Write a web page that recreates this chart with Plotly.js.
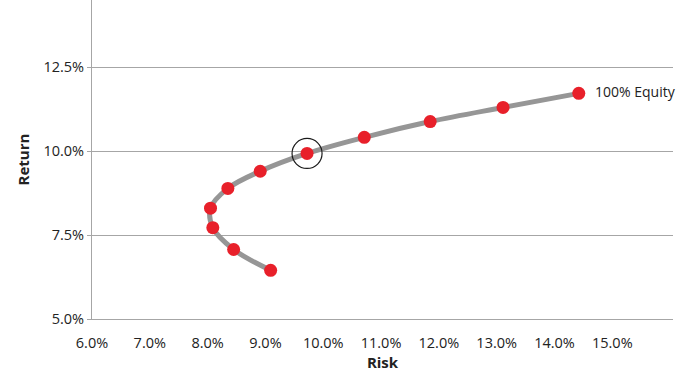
<!DOCTYPE html>
<html>
<head>
<meta charset="utf-8">
<script src="https://cdn.plot.ly/plotly-3.0.1.min.js"></script>
<style>html,body{margin:0;padding:0;background:#fff;}#chart{width:700px;height:375px;}</style>
</head>
<body>
<div id="chart"></div>
<script>
// Efficient frontier: risk (%) vs return (%)
var risk   = [9.09, 8.45, 8.09, 8.05, 8.35, 8.91, 9.72, 10.71, 11.85, 13.11, 14.42];
var ret    = [6.45, 7.07, 7.72, 8.30, 8.89, 9.40, 9.93, 10.41, 10.88, 11.30, 11.72];
var highlightRisk = [9.72];
var highlightReturn = [9.93];
var labelText = "100% Equity";
var xTickVals = [6, 7, 8, 9, 10, 11, 12, 13, 14, 15];
var xTickText = ["6.0%", "7.0%", "8.0%", "9.0%", "10.0%", "11.0%", "12.0%", "13.0%", "14.0%", "15.0%"];
var yTickVals = [5, 7.5, 10, 12.5];
var yTickText = ["5.0%", "7.5%", "10.0%", "12.5%"];

var font = "'Open Sans', 'Noto Sans', 'Liberation Sans', sans-serif";

var traces = [
  {
    x: risk, y: ret, type: "scatter", mode: "lines",
    line: {color: "#969696", width: 5, shape: "spline", smoothing: 1},
    hoverinfo: "skip", showlegend: false
  },
  {
    x: risk, y: ret, type: "scatter", mode: "markers",
    marker: {color: "#e8202a", size: 13, line: {width: 0}},
    showlegend: false
  },
  {
    x: highlightRisk, y: highlightReturn, type: "scatter", mode: "markers",
    marker: {symbol: "circle-open", color: "#1a1a1a", size: 30, line: {width: 1.2, color: "#1a1a1a"}},
    showlegend: false
  }
];

var layout = {
  width: 700, height: 375,
  margin: {l: 92, r: 27, t: 0, b: 56},
  paper_bgcolor: "#ffffff", plot_bgcolor: "#ffffff",
  font: {family: font, size: 15, color: "#222222"},
  xaxis: {
    range: [6, 16.05], tickvals: xTickVals, ticktext: xTickText,
    showgrid: false, zeroline: false, showline: true, linecolor: "#a6a6a6", linewidth: 1,
    ticks: "", ticklabelstandoff: 11,
    tickfont: {family: font, size: 14.5, color: "#222"},
    title: {text: "<b>Risk</b>", font: {family: font, size: 15, color: "#222"}, standoff: 6}
  },
  yaxis: {
    range: [5, 14.5], tickvals: yTickVals, ticktext: yTickText,
    showgrid: true, gridcolor: "#a6a6a6", gridwidth: 1,
    zeroline: false, showline: true, linecolor: "#a6a6a6", linewidth: 1,
    ticks: "outside", ticklen: 4, tickcolor: "#a6a6a6",
    tickfont: {family: font, size: 14.5, color: "#222"},
    title: {text: "<b>Return</b>", font: {family: font, size: 15, color: "#222"}, standoff: 10}
  },
  annotations: [{
    x: risk[risk.length - 1], y: ret[ret.length - 1], xref: "x", yref: "y",
    text: labelText, showarrow: false, xanchor: "left", xshift: 14, yshift: 2,
    font: {family: font, size: 14, color: "#222"}
  }]
};

Plotly.newPlot("chart", traces, layout, {staticPlot: true, displayModeBar: false});
</script>
</body>
</html>
